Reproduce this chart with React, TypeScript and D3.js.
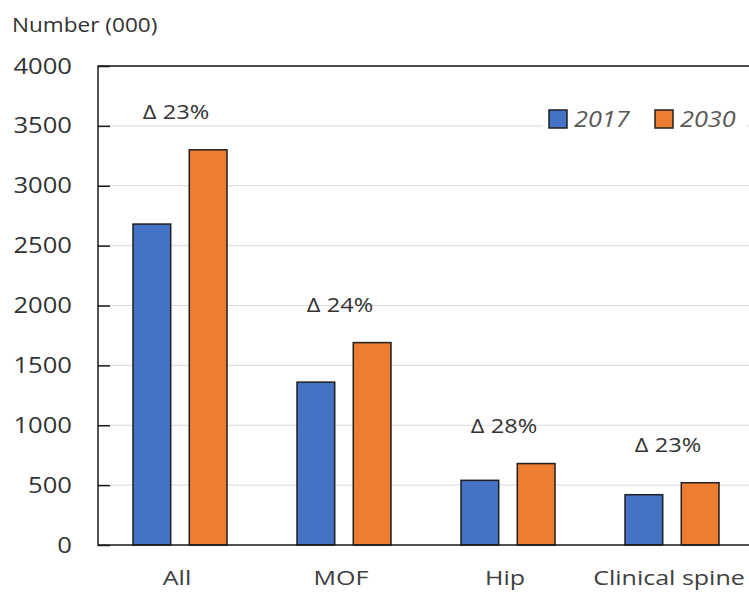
import { useEffect, useRef } from "react"
import * as d3 from "d3"

const categories = ["All", "MOF", "Hip", "Clinical spine"]
const series = ["2017", "2030"]
const values2017 = [2680, 1360, 540, 420]
const values2030 = [3300, 1690, 680, 520]
const deltaLabels = ["Δ 23%", "Δ 24%", "Δ 28%", "Δ 23%"]
const yTicks = [0, 500, 1000, 1500, 2000, 2500, 3000, 3500, 4000]
const colors = ["#4472C4", "#ED7D31"]

const App: React.FC = () => {
    const svgRef = useRef<SVGSVGElement>(null)
    const width = 749
    const height = 592

    useEffect(() => {
        const margin = { top: 66, right: -5, bottom: 47, left: 98 }
        const font = "'Open Sans', 'DejaVu Sans', sans-serif"
        const sx = 1.18 // картинка растянута по горизонтали

        const x = d3.scaleBand()
            .domain(categories)
            .range([margin.left, width - margin.right])

        const xSub = d3.scaleBand()
            .domain(series)
            .range([x.bandwidth() / 2 - 47, x.bandwidth() / 2 + 47])
            .paddingInner(0.33)

        const y = d3.scaleLinear()
            .domain([0, 4000])
            .range([height - margin.bottom, margin.top])

        const svg = d3.select(svgRef.current)
        svg.selectAll("*").remove()

        // сетка
        svg.append("g")
            .selectAll("line")
            .data(yTicks.slice(1))
            .join("line")
            .attr("x1", margin.left)
            .attr("x2", width - margin.right)
            .attr("y1", d => y(d))
            .attr("y2", d => y(d))
            .attr("stroke", "#d9d9d9")
            .attr("stroke-width", 1)

        const rows = categories.map((c, i) => ({ c, i, vals: [values2017[i], values2030[i]] }))

        const groups = svg.append("g")
            .selectAll("g")
            .data(rows)
            .join("g")
            .attr("transform", d => `translate(${x(d.c)},0)`)

        groups.selectAll("rect")
            .data(d => d.vals.map((v, k) => ({ v, k })))
            .join("rect")
            .attr("x", d => xSub(series[d.k])!)
            .attr("width", xSub.bandwidth())
            .attr("y", d => y(d.v))
            .attr("height", d => y(0) - y(d.v))
            .attr("fill", d => colors[d.k])
            .attr("stroke", "#1f1f1f")
            .attr("stroke-width", 1.5)

        groups.append("text")
            .attr("transform", d => `translate(${x.bandwidth() / 2 - 4},${y(Math.max(...d.vals)) - 31}) scale(${sx},1)`)
            .attr("text-anchor", "middle")
            .attr("font-family", font)
            .attr("font-size", 20)
            .attr("fill", "#333")
            .text(d => deltaLabels[d.i])

        // рамка графика
        svg.append("rect")
            .attr("x", margin.left)
            .attr("y", margin.top)
            .attr("width", width - margin.right - margin.left)
            .attr("height", y(0) - margin.top)
            .attr("fill", "none")
            .attr("stroke", "#1a1a1a")
            .attr("stroke-width", 1.5)

        // ось Y, засечки внутрь
        const yAxis = svg.append("g")
            .attr("transform", `translate(${margin.left},0)`)
            .call(d3.axisRight(y).tickValues(yTicks).tickSize(12).tickFormat(() => ""))
        yAxis.select(".domain").remove()
        yAxis.selectAll("line").attr("stroke", "#1a1a1a").attr("stroke-width", 1.5)

        svg.append("g")
            .selectAll("text")
            .data(yTicks)
            .join("text")
            .attr("transform", d => `translate(72,${y(d)}) scale(1.22,1)`)
            .attr("dy", "0.36em")
            .attr("text-anchor", "end")
            .attr("font-family", font)
            .attr("font-size", 21)
            .attr("fill", "#333")
            .text(d => d)

        svg.append("g")
            .selectAll("text")
            .data(categories)
            .join("text")
            .attr("transform", d => `translate(${x(d)! + x.bandwidth() / 2 - 3},585) scale(1.25,1)`)
            .attr("text-anchor", "middle")
            .attr("font-family", font)
            .attr("font-size", 20)
            .attr("fill", "#404040")
            .text(d => d)

        svg.append("text")
            .attr("transform", `translate(12,32) scale(1.13,1)`)
            .attr("font-family", font)
            .attr("font-size", 20)
            .attr("fill", "#333")
            .text("Number (000)")

        // легенда
        svg.append("rect")
            .attr("x", 543)
            .attr("y", 104)
            .attr("width", 203)
            .attr("height", 30)
            .attr("fill", "#fff")

        const legend = svg.append("g")
            .selectAll("g")
            .data(series)
            .join("g")
            .attr("transform", (_, i) => `translate(${549 + i * 106},110)`)
        legend.append("rect")
            .attr("width", 18)
            .attr("height", 18)
            .attr("fill", (_, i) => colors[i])
            .attr("stroke", "#1f1f1f")
            .attr("stroke-width", 1.5)
        legend.append("text")
            .attr("transform", `translate(25,9) scale(1.15,1)`)
            .attr("dy", "0.36em")
            .attr("font-family", font)
            .attr("font-size", 22)
            .attr("font-style", "italic")
            .attr("fill", "#595959")
            .text(d => d)
    }, [])

    return (
        <svg ref={svgRef} width={width} height={height} viewBox={`0 0 ${width} ${height}`}
            style={{ position: "absolute", left: 0, top: 0, background: "#fff" }} />
    )
}

export default App
